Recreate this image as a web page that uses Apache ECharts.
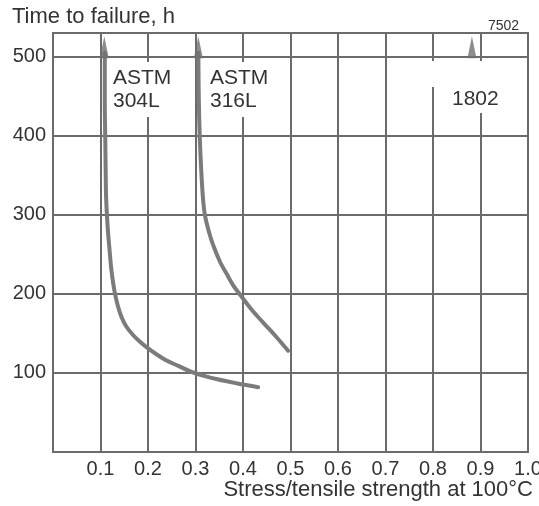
<!DOCTYPE html>
<html><head><meta charset="utf-8">
<script src="https://cdn.jsdelivr.net/npm/echarts@6/dist/echarts.min.js"></script>
<style>html,body{margin:0;padding:0;background:#fff}#c{width:539px;height:506px}</style>
</head><body><div id="c"></div>
<script>
// ---- data ----
const stress304L = [0.109, 0.109, 0.110, 0.111, 0.112, 0.1155, 0.119, 0.123, 0.129, 0.136, 0.144, 0.154, 0.167, 0.182, 0.196, 0.217, 0.238, 0.264, 0.289, 0.314, 0.346, 0.386, 0.432];
const hours304L  = [505,   445,   398,   349,   319,   281,    256,   230,   205,   186,   171,   159,   149,   140,   133,   124,   116,   109,   102,   97,    92,    87,    82];
const stress316L = [0.306, 0.307, 0.309, 0.312, 0.316, 0.320, 0.329, 0.337, 0.352, 0.367, 0.379, 0.394, 0.417, 0.442, 0.468, 0.495];
const hours316L  = [505,   445,   398,   357,   319,   299,   277,   262,   240,   224,   211,   199,   181,   164,   147,   128];
const arrowStress = [0.108, 0.306, 0.882];
const arrowHours  = [512, 512, 512];
const xTickLabels = ['', '0.1','0.2','0.3','0.4','0.5','0.6','0.7','0.8','0.9','1.0'];
const yTickLabels = ['', '100','200','300','400','500'];
const labels = ['ASTM\n304L', 'ASTM\n316L', '1802'];

const zip = (a, b) => a.map((v, i) => [v, b[i]]);
const FONT = 'Liberation Sans, Arial, sans-serif';
const GRID = '#6b6b6b';
const CURVE = '#7b7b7b';
const TXT = '#333333';

const chart = echarts.init(document.getElementById('c'), null, {renderer: 'canvas'});
chart.setOption({
  animation: false,
  backgroundColor: '#fff',
  grid: {left: 53, right: 11, top: 33, bottom: 54, show: true, borderColor: GRID, borderWidth: 2,
         containLabel: false, outerBoundsMode: 'none'},
  xAxis: {
    type: 'value', min: 0, max: 1, interval: 0.1,
    axisLine: {show: true, lineStyle: {color: GRID, width: 2}},
    axisTick: {show: false},
    splitLine: {show: true, lineStyle: {color: GRID, width: 2}},
    axisLabel: {
      fontSize: 20, color: TXT, fontFamily: FONT, margin: 7,
      showMinLabel: true, showMaxLabel: true, hideOverlap: false,
      formatter: v => xTickLabels[Math.round(v * 10)] ?? ''
    }
  },
  yAxis: {
    type: 'value', min: 0, max: 530, interval: 100,
    axisLine: {show: true, lineStyle: {color: GRID, width: 2}},
    axisTick: {show: false},
    splitLine: {show: true, lineStyle: {color: GRID, width: 2}},
    axisLabel: {
      fontSize: 20, color: TXT, fontFamily: FONT, margin: 7,
      formatter: v => (v % 100 === 0 ? (yTickLabels[v / 100] ?? '') : '')
    }
  },
  series: [
    {type: 'line', name: '304L', data: zip(stress304L, hours304L), smooth: 0.4, showSymbol: false,
     lineStyle: {color: CURVE, width: 4, cap: 'round', join: 'round'}, z: 5},
    {type: 'line', name: '316L', data: zip(stress316L, hours316L), smooth: 0.4, showSymbol: false,
     lineStyle: {color: CURVE, width: 4, cap: 'round', join: 'round'}, z: 5},
    {type: 'scatter', name: 'arrows', data: zip(arrowStress, arrowHours), symbol: 'triangle',
     symbolSize: [9, 22], itemStyle: {color: '#707070'}, z: 6}
  ],
  graphic: [
    {type: 'text', left: 12, top: 6, z: 10,
     style: {text: 'Time to failure, h', font: '22px ' + FONT, fill: TXT, lineHeight: 22}},
    {type: 'text', right: 6, top: 479, z: 10,
     style: {text: 'Stress/tensile strength at 100°C', font: '22px ' + FONT, fill: TXT, lineHeight: 22}},
    {type: 'text', left: 488, top: 19, z: 10,
     style: {text: '7502', font: '14px ' + FONT, fill: TXT, lineHeight: 14}},
    {type: 'text', left: 110, top: 62, z: 10,
     style: {text: labels[0], font: '21px ' + FONT, fill: TXT, lineHeight: 23,
             backgroundColor: '#fff', padding: [5, 5, 4, 3]}},
    {type: 'text', left: 205, top: 62, z: 10,
     style: {text: labels[1], font: '21px ' + FONT, fill: TXT, lineHeight: 23,
             backgroundColor: '#fff', padding: [5, 5, 4, 5]}},
    {type: 'rect', left: 430, top: 61, z: 9, shape: {width: 7, height: 26}, style: {fill: '#fff'}},
    {type: 'text', left: 440, top: 61, z: 10,
     style: {text: labels[2], font: '21px ' + FONT, fill: TXT, lineHeight: 23,
             backgroundColor: '#fff', padding: [27, 20, 2, 12]}}
  ]
});
</script>
</body></html>
